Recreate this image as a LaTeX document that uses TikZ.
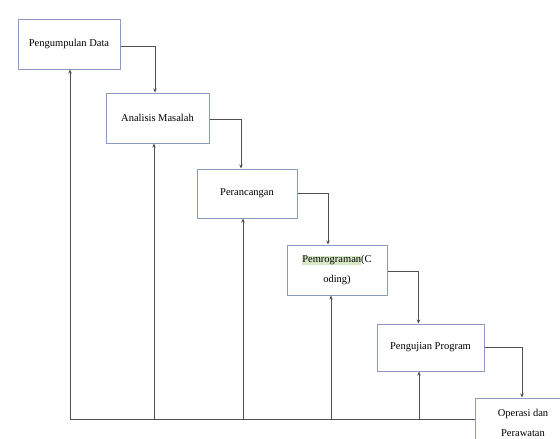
\documentclass[tikz,border=0pt]{standalone}
\usepackage{fontspec}
\setmainfont{Liberation Serif}
\usetikzlibrary{arrows.meta}
\definecolor{boxline}{HTML}{8C9BC0}
\definecolor{conn}{HTML}{505050}
\definecolor{hl}{HTML}{D6E8C6}
\tikzset{
  stage/.style={draw=boxline, line width=1pt, fill=white, align=center,
    font=\fontsize{10.5}{20}\selectfont, inner sep=0pt},
  link/.style={draw=conn, line width=0.8pt, -{Stealth[length=4pt,width=3.5pt]}},
  plain/.style={draw=conn, line width=0.8pt}
}
\begin{document}
\begin{tikzpicture}[x=1pt,y=-1pt]
\useasboundingbox (0,0) rectangle (560,439);
\begin{scope}
\clip (0,0) rectangle (560,439);
\node[stage, minimum width=102pt, minimum height=50pt] (b1) at (69,44) {Pengumpulan Data};
\node[stage, minimum width=103pt, minimum height=50pt] (b2) at (157.5,118) {Analisis Masalah};
\node[stage, minimum width=100pt, minimum height=49pt] (b3) at (247,193.5) {Perancangan};
\node[stage, minimum width=100pt, minimum height=50pt] (b4) at (337,270) {{\fboxsep=0pt\colorbox{hl}{Pemrograman}}(C\\oding)};
\node[stage, minimum width=107pt, minimum height=47pt] (b5) at (430.5,347.5) {Pengujian Program};
\node[stage, minimum width=96pt, minimum height=50pt] (b6) at (523,423) {Operasi dan\\Perawatan};

\draw[link] ([yshift=-2pt]b1.east) -| ([xshift=-2.5pt]b2.north);
\draw[link] ([yshift=-1pt]b2.east) -| ([xshift=-6pt]b3.north);
\draw[link] (b3.east) -| ([xshift=-9pt]b4.north);
\draw[link] ([yshift=-1pt]b4.east) -| ([xshift=-12pt]b5.north);
\draw[link] (b5.east) -| ([xshift=-1pt]b6.north);

\coordinate (bl) at (70,419);
\draw[plain] (bl) -- (bl -| b6.west);
\draw[link] (bl) -- (bl |- b1.south);
\draw[link] ([xshift=-3.5pt]b2.south |- bl) -- ([xshift=-3.5pt]b2.south);
\draw[link] ([xshift=-4pt]b3.south |- bl) -- ([xshift=-4pt]b3.south);
\draw[link] ([xshift=-6pt]b4.south |- bl) -- ([xshift=-6pt]b4.south);
\draw[link] ([xshift=-11.5pt]b5.south |- bl) -- ([xshift=-11.5pt]b5.south);
\end{scope}
\end{tikzpicture}
\end{document}
